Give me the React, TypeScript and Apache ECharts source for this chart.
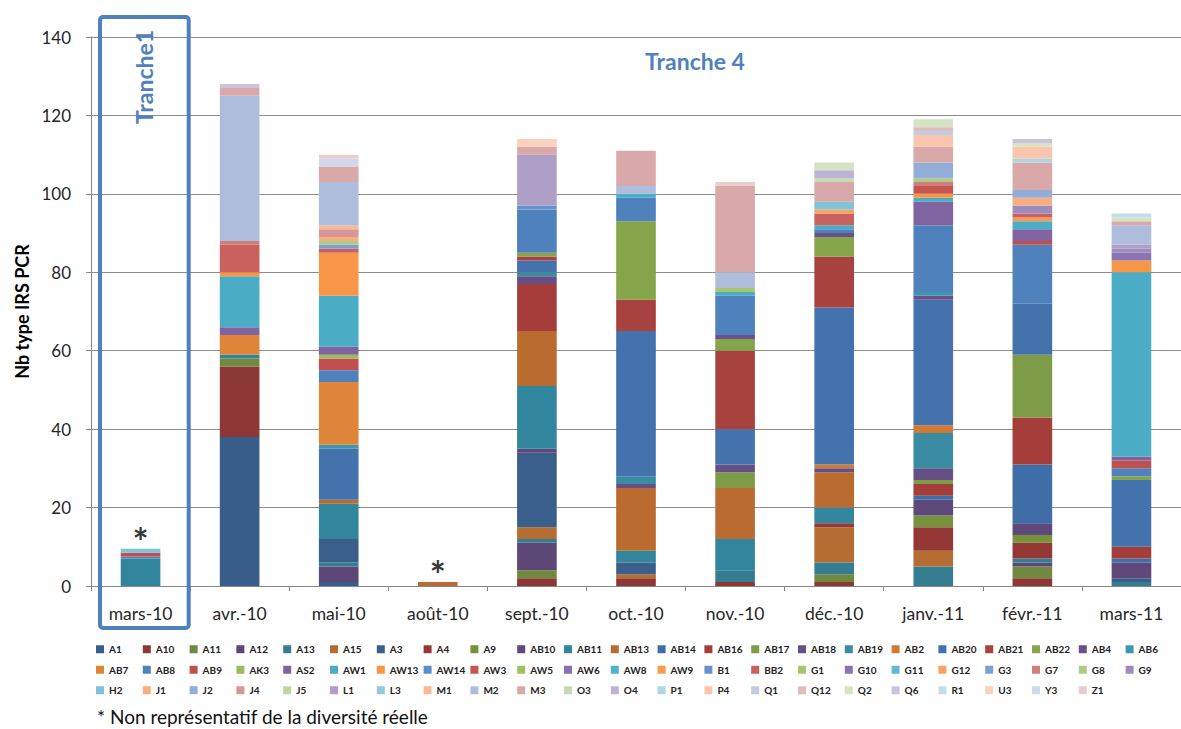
import React, { useEffect, useRef } from "react";
import * as echarts from "echarts";

const categories = ["mars-10", "avr.-10", "mai-10", "août-10", "sept.-10", "oct.-10", "nov.-10", "déc.-10", "janv.-11", "févr.-11", "mars-11"];

const seriesNames = [
  "A1", "A10", "A11", "A12", "A13", "A15", "A3", "A4", "A9", "AB10", "AB11", "AB13", "AB14", "AB16", "AB17", "AB18", "AB19", "AB2", "AB20", "AB21", "AB22", "AB4", "AB6",
  "AB7", "AB8", "AB9", "AK3", "AS2", "AW1", "AW13", "AW14", "AW3", "AW5", "AW6", "AW8", "AW9", "B1", "BB2", "G1", "G10", "G11", "G12", "G3", "G7", "G8", "G9",
  "H2", "J1", "J2", "J4", "J5", "L1", "L3", "M1", "M2", "M3", "O3", "O4", "P1", "P4", "Q1", "Q12", "Q2", "Q6", "R1", "U3", "Y3", "Z1",
];

const seriesColors = [
  "#385D8A", "#8C3836", "#71893F", "#5C4776", "#357D91", "#B66D31", "#3A5F8B", "#953735", "#76923C", "#5F497A", "#31859C", "#B96B30", "#3E6DA8", "#A53E3B", "#7E9B47", "#664F85", "#3A8CA3", "#D07A34", "#4472AC", "#A8423F", "#86A44A", "#6B4F8C", "#3E97AE",
  "#DE853A", "#4F81BD", "#C0504D", "#9BBB59", "#8064A2", "#4BACC6", "#F79646", "#5B8DCA", "#C45551", "#A2C061", "#8A6FAE", "#55B0CC", "#F79A4F", "#6791CD", "#C9625F", "#A8C66E", "#8C73B2", "#62B8D2", "#F8A265", "#7F9FD3", "#D07D7B", "#ADCB86", "#9D8BBE",
  "#7FC3D7", "#F9AE82", "#94ACD8", "#D59797", "#BFD69F", "#AD9FC6", "#94C8DA", "#F9B996", "#ADBDDB", "#D9A9A9", "#C8DAB5", "#BEB2D2", "#AFD5E3", "#F9C6AD", "#C1CCE3", "#DFBBBB", "#D5E2C3", "#CBC2DC", "#C1DEE8", "#FAD1BF", "#D1D8EA", "#E7CFCF",
];

// segments of each bar: [type, count]
const mars10: [string, number][] = [["AB11", 7], ["AB8", 0.5], ["AB9", 1], ["H2", 1]];
const avr10: [string, number][] = [["A1", 38], ["A10", 18], ["A11", 2], ["AB11", 1], ["AB7", 5], ["AS2", 2], ["AW1", 13], ["AW13", 1], ["BB2", 7], ["G7", 1], ["M2", 37], ["M3", 2], ["Q6", 1]];
const mai10: [string, number][] = [["A1", 1], ["A12", 4], ["A13", 1], ["A3", 6], ["AB11", 9], ["AB13", 1], ["AB20", 13], ["AB6", 1], ["AB7", 16], ["AB8", 3], ["AB9", 3], ["AK3", 1], ["AS2", 2], ["AW1", 13], ["AW13", 11], ["BB2", 1], ["G3", 1], ["G8", 1], ["J1", 1], ["J4", 2], ["M1", 1], ["M2", 11], ["M3", 4], ["Y3", 2], ["Z1", 1]];
const aout10: [string, number][] = [["AB13", 1]];
const sept10: [string, number][] = [["A10", 2], ["A11", 2], ["A12", 7], ["A13", 1], ["A15", 3], ["A3", 19], ["AB10", 1], ["AB11", 16], ["AB13", 14], ["AB16", 12], ["AB18", 2], ["AB19", 1], ["AB20", 3], ["AB21", 1], ["AB22", 1], ["AB8", 11], ["B1", 1], ["L1", 13], ["M3", 2], ["U3", 2]];
const oct10: [string, number][] = [["A10", 2], ["A15", 1], ["A3", 3], ["AB11", 3], ["AB13", 16], ["AB18", 1], ["AB19", 2], ["AB20", 37], ["AB21", 8], ["AB22", 20], ["AB8", 6], ["AW1", 1], ["M2", 2], ["M3", 9]];
const nov10: [string, number][] = [["A10", 1], ["A13", 3], ["AB11", 8], ["AB13", 13], ["AB17", 4], ["AB18", 2], ["AB20", 9], ["AB21", 20], ["AB22", 3], ["AB4", 1], ["AB8", 10], ["AW1", 1], ["G1", 1], ["M2", 4], ["M3", 22], ["Z1", 1]];
const dec10: [string, number][] = [["A10", 1], ["A11", 2], ["A13", 3], ["A15", 9], ["A4", 1], ["AB11", 4], ["AB13", 9], ["AB18", 1], ["AB2", 1], ["AB20", 40], ["AB21", 13], ["AB22", 5], ["AB4", 1], ["AB8", 1], ["AW1", 1], ["BB2", 3], ["G12", 1], ["H2", 2], ["M3", 5], ["O3", 1], ["O4", 2], ["Q2", 2]];
const janv11: [string, number][] = [["A13", 5], ["A15", 4], ["A4", 6], ["A9", 3], ["AB10", 4], ["AB14", 1], ["AB16", 3], ["AB17", 1], ["AB18", 3], ["AB19", 9], ["AB2", 2], ["AB20", 32], ["AB4", 1], ["AB6", 1], ["AB8", 17], ["AS2", 6], ["AW1", 1], ["AW13", 1], ["AW3", 2], ["G7", 1], ["G8", 1], ["J2", 4], ["M3", 4], ["P4", 3], ["Q1", 1], ["Q12", 1], ["Q2", 2]];
const fevr11: [string, number][] = [["A10", 2], ["A11", 3], ["A12", 1], ["A13", 1], ["A4", 4], ["A9", 2], ["AB10", 3], ["AB14", 15], ["AB16", 12], ["AB17", 16], ["AB20", 13], ["AB8", 15], ["AB9", 1], ["AS2", 3], ["AW1", 2], ["AW9", 1], ["BB2", 1], ["G9", 2], ["J1", 2], ["J2", 2], ["M3", 7], ["P1", 1], ["P4", 3], ["Q2", 1], ["Q6", 1]];
const mars11: [string, number][] = [["A13", 1], ["A3", 1], ["AB10", 4], ["AB14", 1], ["AB16", 3], ["AB20", 17], ["AB22", 1], ["AB8", 2], ["AB9", 2], ["AS2", 1], ["AW1", 47], ["AW13", 3], ["G10", 2], ["G9", 1], ["L1", 1], ["M2", 5], ["M3", 1], ["Q2", 1], ["R1", 1]];

const bars = [mars10, avr10, mai10, aout10, sept10, oct10, nov10, dec10, janv11, fevr11, mars11];

// categories flagged as not representative (asterisk)
const starCategories = ["mars-10", "août-10"];

const yTicks = { min: 0, max: 140, interval: 20 };

const FONT = "Lato, 'Open Sans', sans-serif";

export default function App() {
  const ref = useRef<HTMLDivElement>(null);

  useEffect(() => {
    if (!ref.current) return;
    const chart = echarts.init(ref.current, undefined, { renderer: "svg" });

    const totals = bars.map((b) => b.reduce((s, [, v]) => s + v, 0));

    const barSeries = seriesNames.map((name, i) => ({
      name,
      type: "bar" as const,
      stack: "total",
      barWidth: "40%",
      itemStyle: { color: seriesColors[i] },
      emphasis: { disabled: true },
      data: bars.map((b) => {
        const seg = b.find(([n]) => n === name);
        return seg ? seg[1] : 0;
      }),
    }));

    const starSeries = {
      name: "star",
      type: "scatter" as const,
      symbolSize: 0,
      silent: true,
      z: 10,
      data: starCategories.map((c) => [c, totals[categories.indexOf(c)]]),
      label: {
        show: true,
        position: "inside",
        offset: [0, -8],
        formatter: "*",
        fontSize: 38,
        fontWeight: "bold",
        fontFamily: FONT,
        color: "#000",
      },
    };

    chart.setOption({
      animation: false,
      backgroundColor: "#fff",
      grid: { left: 91, right: -9, top: 37, bottom: 143, containLabel: false },
      xAxis: {
        type: "category",
        data: categories,
        axisLine: { lineStyle: { color: "#868686", width: 1 } },
        axisTick: { show: true, length: 5, lineStyle: { color: "#868686" } },
        axisLabel: { margin: 18, fontSize: 17.5, fontFamily: FONT, color: "#262626", interval: 0 },
      },
      yAxis: {
        type: "value",
        min: yTicks.min,
        max: yTicks.max,
        interval: yTicks.interval,
        name: "Nb type IRS PCR",
        nameLocation: "middle",
        nameRotate: 90,
        nameGap: 60,
        nameTextStyle: { fontSize: 18, fontWeight: "bold", fontFamily: FONT, color: "#000" },
        axisLine: { show: true, lineStyle: { color: "#868686", width: 1 } },
        axisTick: { show: true, length: 5, lineStyle: { color: "#868686" } },
        axisLabel: { margin: 20, fontSize: 17, fontFamily: FONT, color: "#262626" },
        splitLine: { show: true, lineStyle: { color: "#8C8C8C", width: 1 } },
      },
      legend: {
        data: seriesNames,
        left: 96,
        top: 639,
        width: 1080,
        padding: 0,
        itemGap: 0,
        itemWidth: 8,
        itemHeight: 8,
        icon: "rect",
        selectedMode: false,
        textStyle: { fontSize: 10, fontWeight: "bold", fontFamily: FONT, color: "#222", width: 33.8, lineHeight: 20.5 },
      },
      graphic: [
        {
          type: "rect",
          shape: { x: 100, y: 17, width: 88.7, height: 611, r: 3 },
          style: { fill: "none", stroke: "#4F81BD", lineWidth: 4 },
          z: 100,
        },
        {
          type: "text",
          x: 144,
          y: 77,
          rotation: Math.PI / 2,
          style: { text: "Tranche1", align: "center", verticalAlign: "middle", font: `bold 23px ${FONT}`, fill: "#4F81BD" },
          z: 100,
        },
        {
          type: "text",
          x: 695,
          y: 61,
          style: { text: "Tranche 4", align: "center", verticalAlign: "middle", font: `bold 23px ${FONT}`, fill: "#4F81BD" },
          z: 100,
        },
        {
          type: "text",
          x: 97,
          y: 716,
          style: { text: "* Non représentatif de la diversité réelle", align: "left", verticalAlign: "middle", font: `19px ${FONT}`, fill: "#111" },
          z: 100,
        },
      ],
      series: [...barSeries, starSeries],
    });

    return () => chart.dispose();
  }, []);

  return <div ref={ref} style={{ position: "absolute", left: 0, top: 0, width: 1181, height: 729 }} />;
}
